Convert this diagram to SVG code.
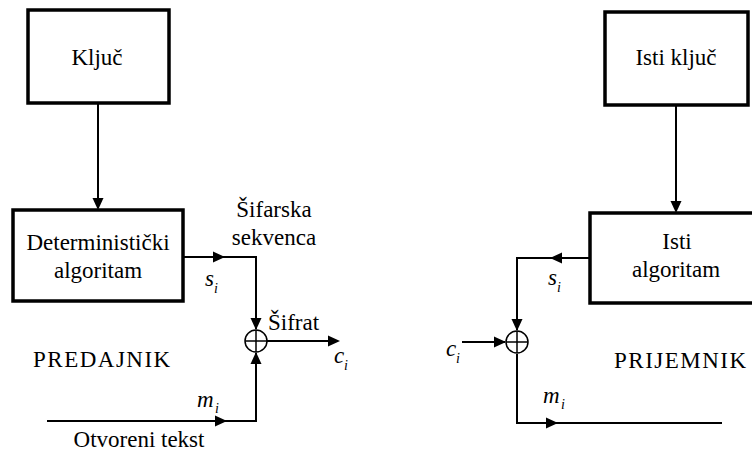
<svg xmlns="http://www.w3.org/2000/svg" width="752" height="452" viewBox="0 0 752 452">
<style>
.box{fill:#fff;stroke:#000;stroke-width:3.5}
.ln{fill:none;stroke:#000;stroke-width:2}
.xor{fill:#fff;stroke:#000;stroke-width:1.5}
</style>
<defs>
<path id="ah" d="M0,0 L-12,-5.5 L-12,5.5 Z" fill="#000"/>
</defs>
<rect width="752" height="452" fill="#fff"/>

<g id="connectors">
<path class="ln" d="M98,103 V208"/>
<path class="ln" d="M183,257 H256 V329"/>
<path class="ln" d="M47,421 H256 V353"/>
<path class="ln" d="M267,341 H338"/>
<path class="ln" d="M676,105 V211"/>
<path class="ln" d="M590,258 H517 V330"/>
<path class="ln" d="M462,342 H505"/>
<path class="ln" d="M517,354 V423 H722"/>
<use href="#ah" transform="translate(98,210) rotate(90)"/>
<use href="#ah" transform="translate(225,257)"/>
<use href="#ah" transform="translate(256,330) rotate(90)"/>
<use href="#ah" transform="translate(256,352) rotate(-90)"/>
<use href="#ah" transform="translate(340,341)"/>
<use href="#ah" transform="translate(227,421)"/>
<use href="#ah" transform="translate(676,213) rotate(90)"/>
<use href="#ah" transform="translate(550,258) rotate(180)"/>
<use href="#ah" transform="translate(517,331) rotate(90)"/>
<use href="#ah" transform="translate(506,342)"/>
<use href="#ah" transform="translate(558,423)"/>
</g>

<g id="kljuc">
<rect class="box" x="28" y="10" width="141" height="93"/>
<text font-family="Liberation Serif" font-size="23" text-anchor="middle" x="97" y="65">Ključ</text>
</g>

<g id="det-algoritam">
<rect class="box" x="13" y="210" width="170" height="91"/>
<text font-family="Liberation Serif" font-size="23" text-anchor="middle" x="98" y="250">Deterministički</text>
<text font-family="Liberation Serif" font-size="23" text-anchor="middle" x="98" y="278">algoritam</text>
</g>

<g id="xor-left">
<circle class="xor" cx="256" cy="341" r="11"/>
<path class="xor" style="fill:none" d="M245,341 H267 M256,330 V352"/>
</g>

<g id="labels-left">
<text font-family="Liberation Serif" font-size="23" text-anchor="middle" x="274" y="217">Šifarska</text>
<text font-family="Liberation Serif" font-size="23" text-anchor="middle" x="274" y="245">sekvenca</text>
<text font-family="Liberation Serif" font-size="23" font-style="italic" x="205" y="286">s</text>
<text font-family="Liberation Serif" font-size="14" font-style="italic" x="214" y="293">i</text>
<text font-family="Liberation Serif" font-size="23" x="268" y="330">Šifrat</text>
<text font-family="Liberation Serif" font-size="23" font-style="italic" x="334" y="363">c</text>
<text font-family="Liberation Serif" font-size="14" font-style="italic" x="344" y="370">i</text>
<text font-family="Liberation Serif" font-size="23" x="33" y="367" letter-spacing="1.5">PREDAJNIK</text>
<text font-family="Liberation Serif" font-size="23" font-style="italic" x="197" y="407">m</text>
<text font-family="Liberation Serif" font-size="14" font-style="italic" x="215" y="413">i</text>
<text font-family="Liberation Serif" font-size="23" text-anchor="middle" x="139" y="447">Otvoreni tekst</text>
</g>

<g id="isti-kljuc">
<rect class="box" x="605" y="12" width="143" height="93"/>
<text font-family="Liberation Serif" font-size="23" text-anchor="middle" x="676" y="65">Isti ključ</text>
</g>

<g id="isti-algoritam">
<rect class="box" x="590" y="213" width="180" height="90"/>
<text font-family="Liberation Serif" font-size="23" text-anchor="middle" x="677" y="249">Isti</text>
<text font-family="Liberation Serif" font-size="23" text-anchor="middle" x="676" y="277">algoritam</text>
</g>

<g id="xor-right">
<circle class="xor" cx="517" cy="342" r="11"/>
<path class="xor" style="fill:none" d="M506,342 H528 M517,331 V353"/>
</g>

<g id="labels-right">
<text font-family="Liberation Serif" font-size="23" font-style="italic" x="548" y="285">s</text>
<text font-family="Liberation Serif" font-size="14" font-style="italic" x="557" y="292">i</text>
<text font-family="Liberation Serif" font-size="23" font-style="italic" x="446" y="356">c</text>
<text font-family="Liberation Serif" font-size="14" font-style="italic" x="456" y="363">i</text>
<text font-family="Liberation Serif" font-size="23" x="614" y="368" letter-spacing="1.5">PRIJEMNIK</text>
<text font-family="Liberation Serif" font-size="23" font-style="italic" x="543" y="403">m</text>
<text font-family="Liberation Serif" font-size="14" font-style="italic" x="561" y="409">i</text>
</g>
</svg>
